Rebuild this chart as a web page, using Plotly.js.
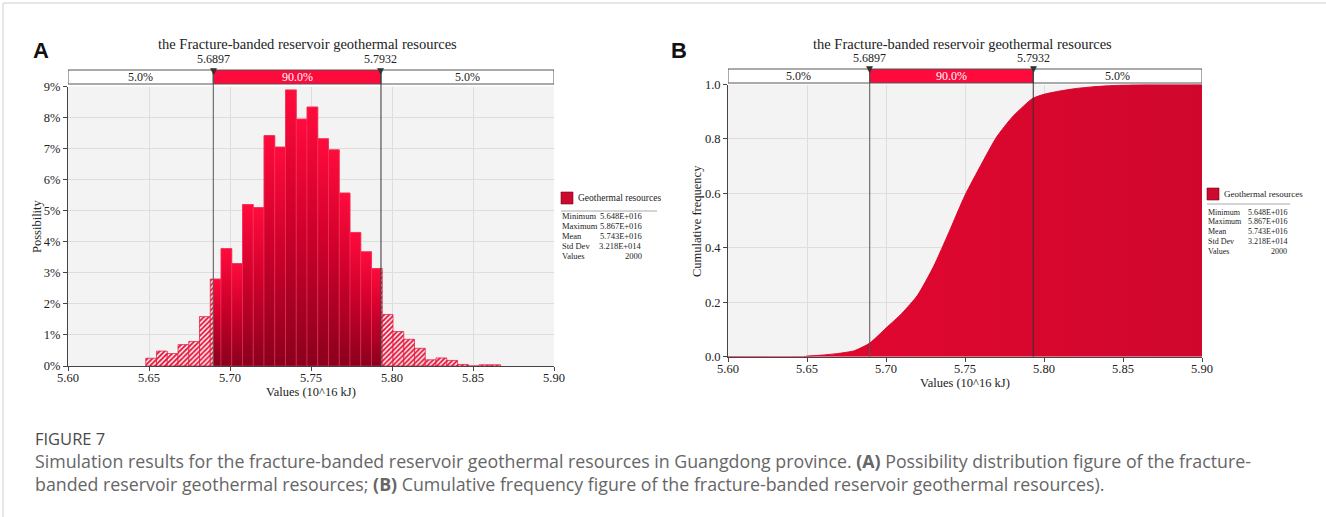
<!DOCTYPE html>
<html><head><meta charset="utf-8">
<script src="https://cdn.plot.ly/plotly-3.0.1.min.js"></script>
<style>html,body{margin:0;padding:0;background:#fff}#chart{width:1326px;height:517px}</style>
</head><body><div id="chart"></div>
<script>
// ---------------- data ----------------
const chartTitle = 'the Fracture-banded reservoir geothermal resources';
const histMin = 5.648, histMax = 5.867;
const possibility = [0.25,0.48,0.40,0.69,0.79,1.59,2.80,3.78,3.30,5.20,5.10,7.42,7.05,8.89,7.95,8.34,7.32,6.96,5.57,4.30,3.68,3.14,1.66,1.11,0.86,0.57,0.20,0.26,0.18,0.05,0.00,0.04,0.04];
const p5 = 5.6897, p95 = 5.7932;
const p5Label = '5.6897', p95Label = '5.7932';
const bandLabels = ['5.0%','90.0%','5.0%'];
const cdfX = [5.60,5.648,5.65,5.66,5.67,5.68,5.6897,5.70,5.71,5.72,5.73,5.74,5.75,5.76,5.77,5.78,5.79,5.7932,5.80,5.81,5.82,5.83,5.84,5.85,5.867,5.90];
const cdfY = [0,0,0.002,0.006,0.012,0.022,0.05,0.105,0.159,0.226,0.330,0.459,0.593,0.703,0.807,0.881,0.936,0.95,0.964,0.976,0.985,0.991,0.995,0.998,1.0,1.0];
const xTicks = [5.60,5.65,5.70,5.75,5.80,5.85,5.90];
const yTicksA = [0,1,2,3,4,5,6,7,8,9];
const yTicksB = [0,0.2,0.4,0.6,0.8,1.0];
const seriesName = 'Geothermal resources';
const statLabels = ['Minimum','Maximum','Mean','Std Dev','Values'];
const statValues = ['5.648E+016','5.867E+016','5.743E+016','3.218E+014','2000'];
const xTitle = 'Values (10^16 kJ)';
const yTitleA = 'Possibility', yTitleB = 'Cumulative frequency';
const panelLabels = ['A','B'];
const captionHead = 'FIGURE 7';
const captionLines = [
  'Simulation results for the fracture-banded reservoir geothermal resources in Guangdong province. <b>(A)</b> Possibility distribution figure of the fracture-',
  'banded reservoir geothermal resources; <b>(B)</b> Cumulative frequency figure of the fracture-banded reservoir geothermal resources).'
];

// ---------------- helpers ----------------
const W = 1326, H = 517;
const X = px => px / W;
const Y = py => 1 - py / H;
const SERIF = 'Liberation Serif, Times New Roman, serif';
const nBins = possibility.length;
const bw = (histMax - histMin) / nBins;
const edges = possibility.map((_, i) => histMin + i * bw);
const centers = edges.map(e => e + bw / 2);

const traces = [];
// hatched full bins (tails visible outside band)
traces.push({
  type: 'bar', x: centers, y: possibility, width: bw, xaxis: 'x', yaxis: 'y',
  marker: {color: '#e31238', line: {width: 0.7, color: '#e31238'},
    pattern: {shape: '/', fillmode: 'replace', fgcolor: '#e31238', bgcolor: '#ffffff', size: 3.5, solidity: 0.55}},
  hoverinfo: 'skip', showlegend: false
});
// solid gradient bins inside the 90% band
possibility.forEach((h, i) => {
  const a = Math.max(edges[i], p5), b = Math.min(edges[i] + bw, p95);
  if (b <= a || h <= 0) return;
  traces.push({
    type: 'scatter', mode: 'lines', xaxis: 'x', yaxis: 'y',
    x: [a, b, b, a, a], y: [0, 0, h, h, 0], fill: 'toself',
    fillcolor: '#d0002c',
    fillgradient: {type: 'vertical', start: 0, stop: h,
      colorscale: [[0, '#8a001d'], [0.55, '#d0002c'], [1, '#ff0b3d']]},
    line: {width: 0.7, color: 'rgba(255,80,110,0.55)'},
    hoverinfo: 'skip', showlegend: false
  });
});
// cumulative curve
traces.push({
  type: 'scatter', mode: 'lines', xaxis: 'x2', yaxis: 'y2', x: cdfX, y: cdfY,
  fill: 'tozeroy', fillcolor: '#dc052f',
  fillgradient: {type: 'horizontal', start: 5.60, stop: 5.90,
    colorscale: [[0, '#e6062f'], [1, '#d0072d']]},
  line: {width: 1, color: '#dc052f', shape: 'spline', smoothing: 0.6}, hoverinfo: 'skip', showlegend: false
});

const axisCommon = {
  showgrid: true, gridcolor: '#dddddd', gridwidth: 1, zeroline: false,
  showline: true, linecolor: '#444', linewidth: 1,
  ticks: 'outside', ticklen: 4, tickcolor: '#444',
  tickfont: {family: SERIF, size: 12.5, color: '#222'}, fixedrange: true
};
const layout = {
  width: W, height: H, margin: {l: 0, r: 0, t: 0, b: 0},
  paper_bgcolor: '#ffffff', plot_bgcolor: '#f3f3f3', showlegend: false,
  barmode: 'overlay',
  xaxis: Object.assign({}, axisCommon, {domain: [X(68), X(554)], range: [5.60, 5.90], tickvals: xTicks, ticktext: xTicks.map(v => v.toFixed(2)), anchor: 'y', ticklabelstandoff: -4}),
  yaxis: Object.assign({}, axisCommon, {domain: [Y(366), Y(86.5)], range: [0, 9], tickvals: yTicksA, ticktext: yTicksA.map(v => v + '%'), anchor: 'x'}),
  xaxis2: Object.assign({}, axisCommon, {domain: [X(728), X(1202)], range: [5.60, 5.90], tickvals: xTicks, ticktext: xTicks.map(v => v.toFixed(2)), anchor: 'y2', ticklabelstandoff: -4}),
  yaxis2: Object.assign({}, axisCommon, {domain: [Y(356.7), Y(84.5)], range: [0, 1], tickvals: yTicksB, ticktext: yTicksB.map(v => v.toFixed(1)), anchor: 'x2'}),
  shapes: [], annotations: []
};

function panel(xr, bandTop, bandBot, plotBot, titleX, titleY, yTitle, yTitleX, yTitleY, xTitleX, xTitleY, label, labelX, leg) {
  const S = layout.shapes, A = layout.annotations;
  const segs = [[5.60, p5, '#ffffff'], [p5, p95, '#ff0a3c'], [p95, 5.90, '#ffffff']];
  segs.forEach((s, i) => {
    S.push({type: 'rect', xref: xr, yref: 'paper', x0: s[0], x1: s[1], y0: Y(bandBot), y1: Y(bandTop),
      fillcolor: s[2], line: {color: '#555', width: 1}, layer: 'above'});
    A.push({xref: xr, yref: 'paper', x: (s[0] + s[1]) / 2, y: Y((bandTop + bandBot) / 2), text: bandLabels[i],
      showarrow: false, font: {family: SERIF, size: 12, color: i === 1 ? '#ffffff' : '#222'}, xanchor: 'center', yanchor: 'middle'});
  });
  [[p5, p5Label, '#555'], [p95, p95Label, '#333']].forEach(q => {
    S.push({type: 'line', xref: xr, yref: 'paper', x0: q[0], x1: q[0], y0: Y(plotBot), y1: Y(bandTop),
      line: {color: q[2], width: 1}, layer: 'above'});
    A.push({xref: xr, yref: 'paper', x: q[0], y: Y(bandTop - 11), text: q[1], showarrow: false,
      font: {family: SERIF, size: 12, color: '#222'}, xanchor: 'center', yanchor: 'middle'});
    A.push({xref: xr, yref: 'paper', x: q[0], y: Y(bandTop + 0.5), text: '▼', showarrow: false,
      font: {family: 'DejaVu Sans', size: 9, color: '#333'}, xanchor: 'center', yanchor: 'middle'});
  });
  A.push({xref: 'paper', yref: 'paper', x: X(titleX), y: Y(titleY), text: chartTitle, showarrow: false,
    font: {family: SERIF, size: 14.5, color: '#222'}, xanchor: 'center', yanchor: 'middle'});
  A.push({xref: 'paper', yref: 'paper', x: X(yTitleX), y: Y(yTitleY), text: yTitle, textangle: -90, showarrow: false,
    font: {family: SERIF, size: 12.5, color: '#222'}, xanchor: 'center', yanchor: 'middle'});
  A.push({xref: 'paper', yref: 'paper', x: X(xTitleX), y: Y(xTitleY), text: xTitle, showarrow: false,
    font: {family: SERIF, size: 12.5, color: '#222'}, xanchor: 'center', yanchor: 'middle'});
  A.push({xref: 'paper', yref: 'paper', x: X(labelX), y: Y(51), text: '<b>' + label + '</b>', showarrow: false,
    font: {family: 'Liberation Sans, Arial, sans-serif', size: 22, color: '#111'}, xanchor: 'center', yanchor: 'middle'});
  // legend box
  S.push({type: 'rect', xref: 'paper', yref: 'paper', x0: X(leg.x), x1: X(leg.x + 12), y0: Y(leg.sq + 12), y1: Y(leg.sq),
    fillcolor: '#cc0a30', line: {color: '#7a0015', width: 0.6}});
  A.push({xref: 'paper', yref: 'paper', x: X(leg.x + 15), y: Y(leg.sq + 6), text: seriesName, showarrow: false,
    font: {family: SERIF, size: leg.fs, color: '#222'}, xanchor: 'left', yanchor: 'middle'});
  S.push({type: 'line', xref: 'paper', yref: 'paper', x0: X(leg.x), x1: X(leg.sepEnd), y0: Y(leg.sep), y1: Y(leg.sep),
    line: {color: '#aaaaaa', width: 1}});
  statLabels.forEach((t, i) => {
    const yy = leg.row0 + i * leg.dy;
    A.push({xref: 'paper', yref: 'paper', x: X(leg.x - 1), y: Y(yy), text: t, showarrow: false,
      font: {family: SERIF, size: leg.fs - 1, color: '#222'}, xanchor: 'left', yanchor: 'middle'});
    A.push({xref: 'paper', yref: 'paper', x: X(leg.valRight), y: Y(yy), text: statValues[i], showarrow: false,
      font: {family: SERIF, size: leg.fs - 1, color: '#222'}, xanchor: 'right', yanchor: 'middle'});
  });
}
panel('x', 70, 84, 366, 307, 44, yTitleA, 37, 226, 311, 392, panelLabels[0], 41,
  {x: 561, sq: 192, sep: 211, sepEnd: 657, row0: 216, dy: 10, valRight: 644, fs: 9.5});
panel('x2', 69, 83, 356.7, 962, 44, yTitleB, 697, 221, 965, 383, panelLabels[1], 679,
  {x: 1207, sq: 188, sep: 204, sepEnd: 1290, row0: 212, dy: 9.8, valRight: 1289, fs: 9});

// caption
layout.annotations.push({xref: 'paper', yref: 'paper', x: X(33), y: Y(438), text: captionHead, showarrow: false,
  font: {family: 'Open Sans, sans-serif', size: 16.5, color: '#4a4a4a'}, xanchor: 'left', yanchor: 'middle'});
captionLines.forEach((t, i) => layout.annotations.push({xref: 'paper', yref: 'paper', x: X(33), y: Y(461 + i * 23), text: t,
  showarrow: false, font: {family: 'Open Sans, sans-serif', size: 17.8, color: '#666'}, xanchor: 'left', yanchor: 'middle'}));
// frame
layout.shapes.push({type: 'line', xref: 'paper', yref: 'paper', x0: X(3), x1: X(3), y0: 0, y1: Y(3), line: {color: '#cfcfcf', width: 1}});
layout.shapes.push({type: 'line', xref: 'paper', yref: 'paper', x0: X(3), x1: 1, y0: Y(3), y1: Y(3), line: {color: '#cfcfcf', width: 1}});

Plotly.newPlot('chart', traces, layout, {displayModeBar: false, staticPlot: true});
</script></body></html>
